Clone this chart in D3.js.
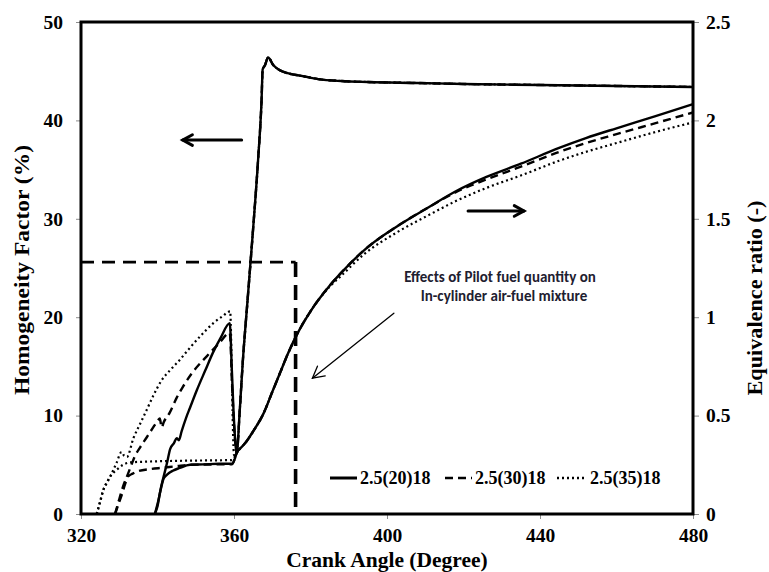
<!DOCTYPE html>
<html>
<head>
<meta charset="utf-8">
<script src="https://cdn.jsdelivr.net/npm/d3@7"></script>
<style>
  html, body { margin: 0; padding: 0; background: #fff; }
  svg { display: block; }
  .tick text { font-family: "Liberation Serif", "Times New Roman", serif; font-weight: bold; font-size: 19.5px; fill: #000; }
  .tick line { stroke: #8c8c8c; stroke-width: 1; }
</style>
</head>
<body>
<svg id="chart" width="769" height="572"></svg>
<script>
// Crank angle axis and tick labels
const caTicks = [320, 360, 400, 440, 480];
const hfTicks = [0, 10, 20, 30, 40, 50];
const phiTicks = [0, 0.5, 1, 1.5, 2, 2.5];

// Homogeneity factor (%) vs crank angle, [CA, HF]
const hfMainEvent = [[360.7,6.2],[361.5,10.5],[362.3,15.5],[363.5,21.5],[365,29],[366.3,36],[367.2,42],
  [367.5,45.2],[368.1,45.6],[368.9,46.4],[370.3,45.6],[372,45.1],[374,44.8],[378,44.5],[382,44.2],
  [388,44.0],[395,43.9],[408,43.8],[420,43.7],[440,43.6],[460,43.5],[480,43.4]];

const hf20 = [[339.3,0],[340,0.8],[340.8,2.5],[341.6,3.8],[342.5,5.2],[343.3,6.6],[344.3,7.2],[345,7.7],
  [345.6,7.5],[346.3,8.4],[347.5,9.8],[348.5,10.8],[350.3,12.6],[352.5,14.6],[354.5,16.4],[356.5,17.9],
  [358.9,19.4],[359.4,15],[360,9.5]];
const hf30 = [[328.9,0],[330,1.5],[331,2.8],[332,3.8],[333,4.8],[334,5.8],[335.5,6.8],[337.2,7.8],
  [338.7,8.7],[340.1,9.5],[340.6,9.7],[341.1,8.8],[341.6,9.3],[343.2,10.3],[345,11.8],[346.6,12.9],
  [349,14.3],[352.8,16.0],[356,17.3],[358.9,18.4],[359.5,13],[360.2,8]];
const hf35 = [[324.1,0],[325,1.3],[325.8,2.4],[327,3.3],[328,4.1],[329.3,5.2],[330.6,6.3],[331.3,5.9],
  [332,5.8],[333.7,7.7],[335.5,9.2],[337.2,10.6],[339,12.1],[341.1,13.6],[343.5,14.7],[345.9,15.7],
  [348.5,16.9],[351.5,18.2],[354.6,19.4],[357,20.1],[359,20.6],[359.4,15],[359.7,9],[360,6]];

// Equivalence ratio (-) vs crank angle, [CA, phi]
const phi20 = [[339.3,0],[340,0.05],[340.8,0.12],[341.6,0.18],[342.5,0.2],[344,0.22],[345.8,0.234],
  [348.5,0.25],[352,0.252],[356,0.255],[359.5,0.255],[360.2,0.28],[360.7,0.31],[362,0.34],[363.3,0.37],
  [365,0.42],[367.7,0.51],[370,0.62],[372,0.715],[374,0.81],[376.4,0.91],[380,1.03],[385,1.16],
  [388,1.225],[394,1.34],[402.5,1.46],[411,1.56],[418,1.64],[426,1.713],[435,1.78],[445,1.86],
  [452,1.91],[460,1.96],[470,2.02],[480,2.083]];
const phi30 = [[328.9,0],[329.8,0.05],[330.7,0.1],[331.5,0.15],[332.3,0.19],[333.5,0.205],[334.6,0.215],
  [338,0.228],[341.4,0.235],[345,0.243],[348.5,0.25],[355,0.252],[359.5,0.253],[360.2,0.28],[360.7,0.31],
  [362,0.34],[363.3,0.37],[365,0.42],[367.7,0.51],[370,0.62],[372,0.715],[374,0.81],[376.4,0.91],
  [380,1.03],[385,1.16],[388,1.225],[394,1.34],[402.5,1.46],[411,1.56],[418,1.635],[426,1.70],
  [435,1.765],[445,1.84],[452,1.885],[460,1.93],[470,1.985],[480,2.04]];
const phi35 = [[324.1,0],[325,0.06],[325.8,0.12],[327,0.17],[328,0.2],[329.3,0.224],[331,0.25],
  [332.8,0.262],[337,0.266],[345,0.27],[352,0.272],[359.4,0.274],[360.2,0.29],[360.7,0.31],[362,0.34],
  [363.3,0.37],[365,0.42],[367.7,0.51],[370,0.62],[372,0.715],[374,0.81],[376.4,0.91],[380,1.03],
  [385,1.155],[388,1.21],[394,1.32],[402.5,1.43],[411,1.52],[418,1.59],[426,1.657],[435,1.72],
  [445,1.795],[452,1.84],[460,1.885],[470,1.94],[480,1.99]];

// Dashed window marking the pilot-injection region, [CA, HF]
const pilotWindow = [[320,25.6],[376.1,25.6]];
const pilotWindowEdge = [[376.1,25.6],[376.1,0]];

const seriesNames = ["2.5(20)18", "2.5(30)18", "2.5(35)18"];
const seriesDash = [null, "8,5", "2,3"];

const svg = d3.select("#chart");
const x = d3.scaleLinear().domain([320, 480]).range([81, 693]);
const yL = d3.scaleLinear().domain([0, 50]).range([514, 22]);
const yR = d3.scaleLinear().domain([0, 2.5]).range([514, 22]);

// Axes
svg.append("g").attr("transform", "translate(0,514)")
  .call(d3.axisBottom(x).tickValues(caTicks).tickSize(5).tickPadding(9).tickFormat(d3.format("d")))
  .call(g => g.select(".domain").remove());
svg.append("g").attr("transform", "translate(81,0)")
  .call(d3.axisLeft(yL).tickValues(hfTicks).tickSize(5).tickPadding(13).tickFormat(d3.format("d")))
  .call(g => g.select(".domain").remove());
svg.append("g").attr("transform", "translate(693,0)")
  .call(d3.axisRight(yR).tickValues(phiTicks).tickSize(6).tickPadding(7).tickFormat(d => String(d)))
  .call(g => g.select(".domain").remove());

const plot = svg.append("g");
const lineL = d3.line().x(d => x(d[0])).y(d => yL(d[1])).curve(d3.curveMonotoneX);
const lineR = d3.line().x(d => x(d[0])).y(d => yR(d[1])).curve(d3.curveMonotoneX);
const straightL = d3.line().x(d => x(d[0])).y(d => yL(d[1]));

// Pilot window
plot.append("path").attr("d", straightL(pilotWindow)).attr("fill", "none")
  .attr("stroke", "#000").attr("stroke-width", 2.6).attr("stroke-dasharray", "13,8");
plot.append("path").attr("d", straightL(pilotWindowEdge)).attr("fill", "none")
  .attr("stroke", "#000").attr("stroke-width", 3.6).attr("stroke-dasharray", "15,8");

const hfSets = [hf20.concat(hfMainEvent), hf30.concat(hfMainEvent), hf35.concat(hfMainEvent)];
const phiSets = [phi20, phi30, phi35];
[2, 1, 0].forEach(i => {
  const w = i === 2 ? 2.2 : 2.4;
  plot.append("path").attr("d", lineR(phiSets[i])).attr("fill", "none")
    .attr("stroke", "#000").attr("stroke-width", w).attr("stroke-linejoin", "round")
    .attr("stroke-dasharray", seriesDash[i]);
  plot.append("path").attr("d", lineL(hfSets[i])).attr("fill", "none")
    .attr("stroke", "#000").attr("stroke-width", w).attr("stroke-linejoin", "round")
    .attr("stroke-dasharray", seriesDash[i]);
});

// Plot frame
svg.append("rect").attr("x", 81).attr("y", 22).attr("width", 612).attr("height", 492)
  .attr("fill", "none").attr("stroke", "#000").attr("stroke-width", 3);

// Direction arrows (which axis each curve group belongs to)
function chevronArrow(x1, y1, x2, y2, size, width) {
  const ang = Math.atan2(y2 - y1, x2 - x1);
  const a1 = ang + Math.PI - 0.5, a2 = ang + Math.PI + 0.5;
  const g = svg.append("g").attr("fill", "none").attr("stroke", "#000").attr("stroke-width", width)
    .attr("stroke-linecap", "round").attr("stroke-linejoin", "miter");
  g.append("line").attr("x1", x1).attr("y1", y1).attr("x2", x2).attr("y2", y2);
  g.append("path").attr("d", `M${x2 + size * Math.cos(a1)},${y2 + size * Math.sin(a1)}L${x2},${y2}L${x2 + size * Math.cos(a2)},${y2 + size * Math.sin(a2)}`);
}
chevronArrow(x(362), yL(38.0), x(346.6), yL(38.0), 11, 3);
chevronArrow(x(421.2), yL(30.8), x(435.8), yL(30.8), 11, 3);
chevronArrow(x(401.8), yL(20.4), x(380.5), yL(13.8), 13, 1.3);

// Annotation
const note = svg.append("text").attr("font-family", "Carlito, Lato, 'Open Sans', sans-serif")
  .attr("font-weight", "bold").attr("font-size", 15).attr("fill", "#1e2030").attr("text-anchor", "middle");
note.append("tspan").attr("x", 500).attr("y", 282).text("Effects of Pilot fuel quantity  on");
note.append("tspan").attr("x", 504).attr("y", 301).text("In-cylinder air-fuel mixture");

// Legend
const legend = svg.append("g");
const legX = [330, 445, 557];
seriesNames.forEach((name, i) => {
  legend.append("line").attr("x1", legX[i]).attr("x2", legX[i] + 27).attr("y1", 478).attr("y2", 478)
    .attr("stroke", "#000").attr("stroke-width", i === 0 ? 3 : 2.4).attr("stroke-dasharray", seriesDash[i]);
  legend.append("text").attr("x", legX[i] + (i === 2 ? 33 : 30)).attr("y", 484)
    .attr("font-family", "'Liberation Serif', serif").attr("font-weight", "bold").attr("font-size", 18)
    .text(name);
});

// Axis titles
const titleFont = "'Liberation Serif', 'Times New Roman', serif";
svg.append("text").attr("x", 387).attr("y", 567).attr("text-anchor", "middle")
  .attr("font-family", titleFont).attr("font-weight", "bold").attr("font-size", 21.5)
  .text("Crank Angle (Degree)");
svg.append("text").attr("transform", "translate(29,270) rotate(-90)").attr("text-anchor", "middle")
  .attr("font-family", titleFont).attr("font-weight", "bold").attr("font-size", 21)
  .attr("textLength", 250).attr("lengthAdjust", "spacingAndGlyphs").text("Homogeneity  Factor (%)");
svg.append("text").attr("transform", "translate(762,298) rotate(-90)").attr("text-anchor", "middle")
  .attr("font-family", titleFont).attr("font-weight", "bold").attr("font-size", 21)
  .attr("textLength", 195).attr("lengthAdjust", "spacingAndGlyphs").text("Equivalence ratio (-)");
</script>
</body>
</html>
